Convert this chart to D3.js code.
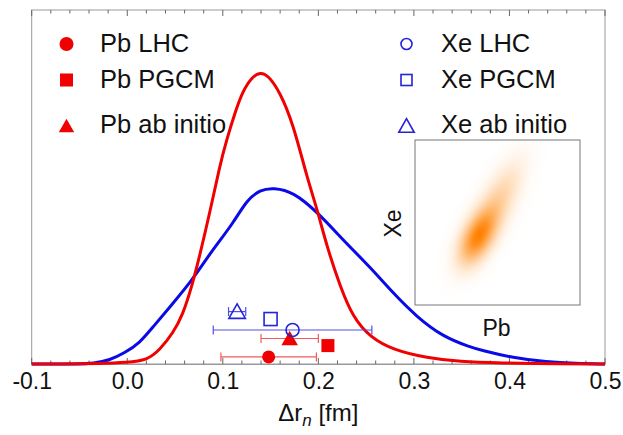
<!DOCTYPE html>
<html><head><meta charset="utf-8">
<script src="https://cdn.jsdelivr.net/npm/d3@7"></script>
<style>
body{margin:0;background:#fff}
svg{display:block;font-family:"Liberation Sans",Arial,Helvetica,sans-serif}
</style>
</head><body>
<svg id="chart" width="623" height="435"></svg>
<script>
// Posterior distributions of the neutron skin Δr_n
const pbX = [-0.1, -0.07, -0.029, 0.0, 0.021, 0.034, 0.048, 0.058, 0.068, 0.076, 0.087, 0.097, 0.104, 0.113, 0.121, 0.131, 0.139, 0.147, 0.160, 0.174, 0.188, 0.199, 0.209, 0.223, 0.236, 0.254, 0.278, 0.314, 0.348, 0.390, 0.453, 0.5];
const pbY = [0, 0, 0.014, 0.042, 0.11, 0.40, 0.88, 1.38, 2.23, 3.08, 4.35, 5.62, 6.33, 7.12, 7.72, 8.12, 8.24, 8.17, 7.68, 6.75, 5.28, 4.35, 3.31, 2.18, 1.33, 0.76, 0.40, 0.17, 0.065, 0.028, 0, 0];
const xeX = [-0.1, -0.049, -0.036, -0.018, -0.003, 0.013, 0.027, 0.048, 0.068, 0.087, 0.111, 0.125, 0.139, 0.153, 0.174, 0.199, 0.226, 0.254, 0.278, 0.303, 0.331, 0.359, 0.369, 0.404, 0.439, 0.469, 0.5];
const xeY = [0, 0, 0.014, 0.11, 0.31, 0.59, 1.05, 1.72, 2.37, 3.14, 3.98, 4.63, 4.92, 4.98, 4.86, 4.29, 3.50, 2.74, 2.01, 1.33, 0.76, 0.48, 0.40, 0.17, 0.056, 0.014, 0];

// Reference values with their uncertainty ranges
const pointNames = ["Pb LHC", "Pb PGCM", "Pb ab initio", "Xe LHC", "Xe PGCM", "Xe ab initio"];
const pointX     = [0.148, 0.210, 0.170, 0.173, 0.150, 0.115];
const pointY     = [0.20, 0.52, 0.72, 0.96, 1.27, 1.48];
const pointLo    = [0.098, null, 0.140, 0.090, null, 0.106];
const pointHi    = [0.198, null, 0.200, 0.256, null, 0.124];
const pointShape = ["circle", "square", "triangle", "circle", "square", "triangle"];
const pointGroup = ["Pb", "Pb", "Pb", "Xe", "Xe", "Xe"];

// Axis
const tickValues = [-0.1, 0.0, 0.1, 0.2, 0.3, 0.4, 0.5];
const tickLabels = ["-0.1", "0.0", "0.1", "0.2", "0.3", "0.4", "0.5"];

// Joint Pb–Xe density in the inset (unit square, Pb across, Xe up)
const blobCx     = [0.38, 0.50];
const blobCy     = [0.41, 0.62];
const blobSdMaj  = [0.12, 0.18];
const blobSdMin  = [0.06, 0.065];
const blobWeight = [1.0, 0.40];
const blobAngle  = 63; // degrees

const W = 623, H = 435;
const plot = {left: 31.7, right: 605, top: 10, bottom: 364};
const colors = {
  Pb: "#f00000", Xe: "#0a0ae6",
  PbBar: "#f05a5a", XeBar: "#5050e6",
  XeMark: "#2424d8", frame: "#999"
};

const svg = d3.select("#chart");
const x = d3.scaleLinear().domain([-0.1, 0.5]).range([plot.left, plot.right]);
const y = d3.scaleLinear().domain([0, 10]).range([plot.bottom, plot.top]);

// frame
svg.append("rect")
  .attr("x", plot.left).attr("y", plot.top)
  .attr("width", plot.right - plot.left).attr("height", plot.bottom - plot.top)
  .attr("fill", "none").attr("stroke", colors.frame).attr("stroke-width", 1);

// ticks on bottom and top edges, pointing inward
const minor = d3.range(-0.1, 0.5001, 0.02);
const gT = svg.append("g");
minor.forEach(v => {
  const isMajor = tickValues.some(t => Math.abs(t - v) < 1e-6);
  const len = isMajor ? 6 : 3.5;
  gT.append("line").attr("x1", x(v)).attr("x2", x(v))
    .attr("y1", plot.bottom).attr("y2", plot.bottom - len)
    .attr("stroke", "#666").attr("stroke-width", 1);
  gT.append("line").attr("x1", x(v)).attr("x2", x(v))
    .attr("y1", plot.top).attr("y2", plot.top + len)
    .attr("stroke", "#666").attr("stroke-width", 1);
});

const xAxis = d3.axisBottom(x).tickValues(tickValues)
  .tickFormat((d, i) => tickLabels[i]).tickSize(0).tickPadding(9);
const gx = svg.append("g").attr("transform", `translate(0,${plot.bottom})`).call(xAxis);
gx.select(".domain").attr("stroke", colors.frame);
gx.selectAll("text").attr("font-size", 23).attr("fill", "#111")
  .attr("font-family", "Liberation Sans, Arial, sans-serif");

// axis title
const title = svg.append("text").attr("x", x(0.2)).attr("y", 421)
  .attr("text-anchor", "middle").attr("font-size", 24).attr("fill", "#111");
title.append("tspan").text("Δr");
title.append("tspan").attr("font-style", "italic").attr("font-size", 17).attr("dy", 5).text("n");
title.append("tspan").attr("dy", -5).text(" [fm]");

// inset with joint density
const inset = {x: 415, y: 140, w: 165, h: 165};
const ix = d3.scaleLinear().domain([0, 1]).range([0, inset.w]);
const iy = d3.scaleLinear().domain([0, 1]).range([inset.h, 0]);
const cnv = document.createElement("canvas");
cnv.width = inset.w; cnv.height = inset.h;
const ctx = cnv.getContext("2d");
const img = ctx.createImageData(inset.w, inset.h);
const th = blobAngle * Math.PI / 180, ct = Math.cos(th), st = Math.sin(th);
const dens = new Float32Array(inset.w * inset.h);
let maxD = 0;
for (let j = 0; j < inset.h; j++) {
  for (let i = 0; i < inset.w; i++) {
    const u = ix.invert(i + 0.5), v = iy.invert(j + 0.5);
    let d = 0;
    for (let k = 0; k < blobCx.length; k++) {
      const dx = u - blobCx[k], dy = v - blobCy[k];
      const a = dx * ct + dy * st, b = -dx * st + dy * ct;
      d += blobWeight[k] * Math.exp(-0.5 * (a * a / (blobSdMaj[k] ** 2) + b * b / (blobSdMin[k] ** 2)));
    }
    dens[j * inset.w + i] = d;
    if (d > maxD) maxD = d;
  }
}
const ramp = d3.interpolateRgb("#ffffff", "#ff8000");
for (let p = 0; p < dens.length; p++) {
  const t = Math.pow(dens[p] / maxD, 1.0);
  const c = d3.rgb(ramp(t));
  img.data[p * 4] = c.r; img.data[p * 4 + 1] = c.g; img.data[p * 4 + 2] = c.b; img.data[p * 4 + 3] = 255;
}
ctx.putImageData(img, 0, 0);
svg.append("image").attr("x", inset.x).attr("y", inset.y)
  .attr("width", inset.w).attr("height", inset.h)
  .attr("href", cnv.toDataURL());
svg.append("rect").attr("x", inset.x).attr("y", inset.y)
  .attr("width", inset.w).attr("height", inset.h)
  .attr("fill", "none").attr("stroke", "#777").attr("stroke-width", 1);
svg.append("text").attr("transform", `translate(${inset.x - 14},${inset.y + inset.h / 2 + 1}) rotate(-90)`)
  .attr("text-anchor", "middle").attr("font-size", 23).attr("fill", "#111").text("Xe");
svg.append("text").attr("x", inset.x + inset.w / 2 - 1).attr("y", inset.y + inset.h + 31)
  .attr("text-anchor", "middle").attr("font-size", 23).attr("fill", "#111").text("Pb");

// density curves
const line = d3.line().x(d => x(d[0])).y(d => y(d[1])).curve(d3.curveBasis);
svg.append("path").datum(d3.zip(xeX, xeY)).attr("d", line)
  .attr("fill", "none").attr("stroke", colors.Xe).attr("stroke-width", 3);
svg.append("path").datum(d3.zip(pbX, pbY)).attr("d", line)
  .attr("fill", "none").attr("stroke", colors.Pb).attr("stroke-width", 3);

// marker shapes
function marker(g, shape, cx, cy, size, filled, color) {
  let el;
  if (shape === "circle") {
    el = g.append("circle").attr("cx", cx).attr("cy", cy).attr("r", size / 2);
  } else if (shape === "square") {
    el = g.append("rect").attr("x", cx - size / 2).attr("y", cy - size / 2)
      .attr("width", size).attr("height", size);
  } else {
    const h = size * 0.9, w = size * 1.1;
    el = g.append("path").attr("d",
      `M${cx},${cy - h / 2 - 1}L${cx + w / 2},${cy + h / 2}L${cx - w / 2},${cy + h / 2}Z`);
  }
  if (filled) el.attr("fill", color).attr("stroke", "none");
  else el.attr("fill", "none").attr("stroke", color).attr("stroke-width", 1.6);
}

// error bars and reference points
const gp = svg.append("g");
pointNames.forEach((n, i) => {
  const cy = y(pointY[i]);
  const bar = pointGroup[i] === "Pb" ? colors.PbBar : colors.XeBar;
  if (pointLo[i] !== null) {
    gp.append("line").attr("x1", x(pointLo[i])).attr("x2", x(pointHi[i]))
      .attr("y1", cy).attr("y2", cy).attr("stroke", bar).attr("stroke-width", 1.2);
    [pointLo[i], pointHi[i]].forEach(v => gp.append("line")
      .attr("x1", x(v)).attr("x2", x(v)).attr("y1", cy - 4.5).attr("y2", cy + 4.5)
      .attr("stroke", bar).attr("stroke-width", 1.2));
  }
  const filled = pointGroup[i] === "Pb";
  const col = filled ? colors.Pb : colors.XeMark;
  const sz = pointShape[i] === "triangle" ? 15 : 13;
  marker(gp, pointShape[i], x(pointX[i]), cy, sz, filled, col);
});

// legend
const legCols = [{mx: 66.5, tx: 100}, {mx: 406.5, tx: 441}];
const legRows = [{my: 44, ty: 52}, {my: 80, ty: 88}, {my: 126, ty: 133}];
const gl = svg.append("g");
pointNames.forEach((n, i) => {
  const c = legCols[i < 3 ? 0 : 1], r = legRows[i % 3];
  const filled = pointGroup[i] === "Pb";
  const col = filled ? colors.Pb : colors.XeMark;
  const sz = filled ? (pointShape[i] === "square" ? 13 : 14) : (pointShape[i] === "triangle" ? 14 : 11);
  marker(gl, pointShape[i], c.mx, r.my, sz, filled, col);
  gl.append("text").attr("x", c.tx).attr("y", r.ty).attr("font-size", 25.5)
    .attr("fill", "#111").text(n);
});
</script>
</body></html>
